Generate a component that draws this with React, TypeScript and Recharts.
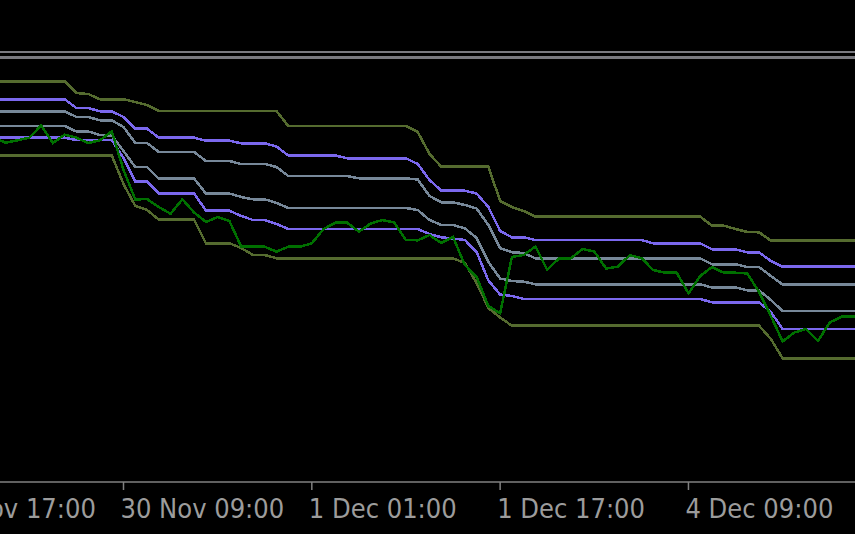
import { LineChart, Line, XAxis, YAxis } from "recharts";

// hourly bars, 0 = 29 Nov 23:00
const bars = [
  -1, 0, 1, 2, 3, 4, 5, 6, 7, 8, 9, 10, 11, 12, 13, 14, 15, 16, 17, 18,
  19, 20, 21, 22, 23, 24, 25, 26, 27, 28, 29, 30, 31, 32, 33, 34, 35, 36, 37, 38,
  39, 40, 41, 42, 43, 44, 45, 46, 47, 48, 49, 50, 51, 52, 53, 54, 55, 56, 57, 58,
  59, 60, 61, 62, 63, 64, 65, 66, 67, 68, 69, 70, 71, 72, 73,
];

const tickBars = [-6, 10, 26, 42, 58];
const tickLabels = [
  "29 Nov 17:00",
  "30 Nov 09:00",
  "1 Dec 01:00",
  "1 Dec 17:00",
  "4 Dec 09:00",
];

const upper3 = [
  418.7, 418.7, 418.7, 418.7, 418.7, 418.7, 418.7,
  407, 406, 400.7, 400.7, 400.7, 398, 395,
  389, 389, 389, 389, 389, 389, 389, 389, 389, 389, 389,
  374, 374, 374, 374, 374, 374, 374, 374, 374, 374, 374,
  368, 346, 333.3, 333.3, 333.3, 333.3, 333.3,
  299, 293, 289,
  283.3, 283.3, 283.3, 283.3, 283.3, 283.3, 283.3, 283.3, 283.3, 283.3, 283.3, 283.3, 283.3, 283.3, 283.3,
  274.3, 274.3, 271, 268, 267.7,
  259.3, 259.3, 259.3, 259.3, 259.3, 259.3, 259.3, 259.3, 259.3,
];

const upper2 = [
  400.7, 400.7, 400.7, 400.7, 400.7, 400.7, 400.7,
  392, 392, 388.7, 388.7, 383, 371.3, 371.3,
  362.3, 362.3, 362.3, 362.3,
  359.3, 359.3, 359.3,
  356.7, 356.7, 356.7,
  353.5,
  344.5, 344.5, 344.5, 344.5, 344.5,
  341.7, 341.7, 341.7, 341.7, 341.7, 341.7,
  336, 320,
  309.3, 309.3, 309.3,
  306.5, 293, 269, 262.7, 262.7,
  260, 260, 260, 260, 260, 260, 260, 260, 260, 260,
  256.7, 256.7, 256.7, 256.7, 256.7,
  250.7, 250.7, 250.7,
  247.7, 247.7, 239,
  233.3, 233.3, 233.3, 233.3, 233.3, 233.3, 233.3, 233.3,
];

const upper1 = [
  388.7, 388.7, 388.7, 388.7, 388.7, 388.7, 388.7,
  383, 383, 379.7, 379.7, 373, 357, 357,
  348, 348, 348, 348,
  339, 339, 339,
  336, 336, 336,
  333,
  324, 324, 324, 324, 324, 324,
  321.7, 321.7, 321.7, 321.7, 321.7,
  320.5, 304, 297.7, 297.7, 295, 291.5, 275, 251.7, 247.7, 247,
  241.7, 241.7, 241.7, 241.7, 241.7, 241.7, 241.7, 241.7, 241.7, 241.7, 241.7, 241.7, 241.7, 241.7, 241.7,
  235.7, 235.7, 235.7,
  233, 233, 224,
  215.5, 215.5, 215.5, 215.5, 215.5, 215.5, 215.5, 215.5,
];

const lower1 = [
  374, 374, 374, 374, 374, 374, 374,
  368.5, 368.5, 365, 364.5, 349, 333, 333,
  321.3, 321.3, 321.3, 321.3,
  306.5, 306.5, 306.5,
  303, 300.7, 300.7, 297,
  292, 292, 292, 292, 292, 292, 292, 292, 292, 292, 292,
  290, 280, 275, 275, 271.7, 262, 238, 221.5, 219, 218.3,
  215.7, 215.7, 215.7, 215.7, 215.7, 215.7, 215.7, 215.7, 215.7, 215.7, 215.7, 215.7, 215.7, 215.7, 215.7,
  212.5, 212.5, 212.5,
  209.7, 209.7, 200,
  189, 189, 189, 189, 189, 189, 189, 189,
];

const lower2 = [
  362.3, 362.3, 362.3, 362.3, 362.3, 362.3, 362.3,
  360, 360, 360, 360, 342, 318.3, 318.3,
  306.7, 306.7, 306.7, 306.7,
  289.3, 289.3, 289.3,
  284, 280, 280, 276,
  271, 271, 271, 271, 271, 271, 271, 271, 271, 271, 271, 271,
  266, 262.7, 261.5, 260, 248, 219.5, 205.5, 204,
  201, 201, 201, 201, 201, 201, 201, 201, 201, 201, 201, 201, 201, 201, 201, 201,
  197.7, 197.7, 197.7, 197.7, 197.7,
  188,
  171, 171, 171, 171, 171, 171, 171, 171,
];

const lower3 = [
  344.7, 344.7, 344.7, 344.7, 344.7, 344.7, 344.7, 344.7, 344.7, 344.7, 344.7,
  316, 294, 290,
  280.3, 280.3, 280.3, 280.3,
  256.7, 256.7, 256.7,
  252, 245, 245,
  241.7, 241.7, 241.7, 241.7, 241.7, 241.7, 241.7, 241.7, 241.7, 241.7, 241.7, 241.7, 241.7, 241.7, 241.7, 241.7,
  237, 217, 192, 182.5,
  174.3, 174.3, 174.3, 174.3, 174.3, 174.3, 174.3, 174.3, 174.3, 174.3, 174.3,
  174.3, 174.3, 174.3, 174.3, 174.3, 174.3, 174.3, 174.3, 174.3, 174.3, 174.3,
  161,
  141.7, 141.7, 141.7, 141.7, 141.7, 141.7, 141.7, 141.7,
];

const price = [
  362, 357.3, 359.7, 362.3, 374.5, 357, 365.3, 362.3, 357, 359.7,
  368.7, 330, 300.5, 301, 293, 286.3, 300.7, 287.5, 278, 283,
  279, 253.3, 253.3, 253.3, 248.3, 253.3, 253.3, 256.7, 271, 277.3,
  277.3, 268.3, 276.5, 280, 277.5, 260, 259.7, 265, 257, 263,
  235, 223, 194, 186.7, 243, 245, 253.5, 230, 241.7, 241.7,
  251, 248.5, 231.5, 233.3, 244.7, 242, 230, 227.3, 227.3, 206.7,
  224, 233, 227.3, 227.3, 226.5, 208, 184, 158.5, 167.5, 171,
  159, 177.5, 183.3, 183.3, 183.3,
];

const data = bars.map((bar, k) => ({
  bar,
  upper3: upper3[k],
  upper2: upper2[k],
  upper1: upper1[k],
  lower1: lower1[k],
  lower2: lower2[k],
  lower3: lower3[k],
  price: price[k],
}));

const OLIVE = "#556B2F";
const PURPLE = "#7B68EE";
const SLATE = "#778899";
const PRICE = "#007000";
const AXIS = "#808080";

function TimeTick(props: any) {
  const { x, y, payload } = props;
  const label = tickLabels[tickBars.indexOf(payload.value)];
  return (
    <g>
      <line x1={x} y1={y} x2={x} y2={y + 8} stroke={AXIS} strokeWidth={1.5} />
      <text
        x={x - 3}
        y={y + 36}
        fill="#9c9c9c"
        fontSize={27}
        fontFamily="'DejaVu Sans Condensed', 'Liberation Sans', sans-serif"
        textAnchor="start"
      >
        {label}
      </text>
    </g>
  );
}

export default function App() {
  return (
    <div
      style={{
        position: "absolute",
        left: 0,
        top: 0,
        width: 855,
        height: 534,
        overflow: "hidden",
        background: "#000",
      }}
    >
      <style>{`.bands path.recharts-curve { shape-rendering: crispEdges; }`}</style>

      {/* window separator */}
      <div style={{ position: "absolute", left: 0, top: 51, width: 855, height: 2, background: "#7a7a80" }} />
      <div style={{ position: "absolute", left: 0, top: 56, width: 855, height: 3, background: "#7a7a80" }} />

      <div className="bands" style={{ position: "absolute", left: -80, top: 0 }}>
        <LineChart
          width={935}
          height={534}
          data={data}
          margin={{ top: 0, right: 0, bottom: 0, left: 0 }}
        >
          <XAxis
            dataKey="bar"
            type="number"
            domain={[-7.29, 72.15]}
            allowDataOverflow
            ticks={tickBars}
            interval={0}
            height={52}
            tickSize={0}
            tickMargin={0}
            tickLine={false}
            axisLine={{ stroke: AXIS, strokeWidth: 1.5 }}
            tick={<TimeTick />}
          />
          <YAxis hide domain={[18, 500]} allowDataOverflow />

          <Line type="linear" dataKey="upper3" stroke={OLIVE} strokeWidth={2.5} dot={false} activeDot={false} isAnimationActive={false} />
          <Line type="linear" dataKey="lower3" stroke={OLIVE} strokeWidth={2.5} dot={false} activeDot={false} isAnimationActive={false} />
          <Line type="linear" dataKey="upper1" stroke={SLATE} strokeWidth={2.5} dot={false} activeDot={false} isAnimationActive={false} />
          <Line type="linear" dataKey="lower1" stroke={SLATE} strokeWidth={2.5} dot={false} activeDot={false} isAnimationActive={false} />
          <Line type="linear" dataKey="upper2" stroke={PURPLE} strokeWidth={2.5} dot={false} activeDot={false} isAnimationActive={false} />
          <Line type="linear" dataKey="lower2" stroke={PURPLE} strokeWidth={2.5} dot={false} activeDot={false} isAnimationActive={false} />
          <Line type="linear" dataKey="price" stroke={PRICE} strokeWidth={2.5} dot={false} activeDot={false} isAnimationActive={false} />
        </LineChart>
      </div>
    </div>
  );
}
